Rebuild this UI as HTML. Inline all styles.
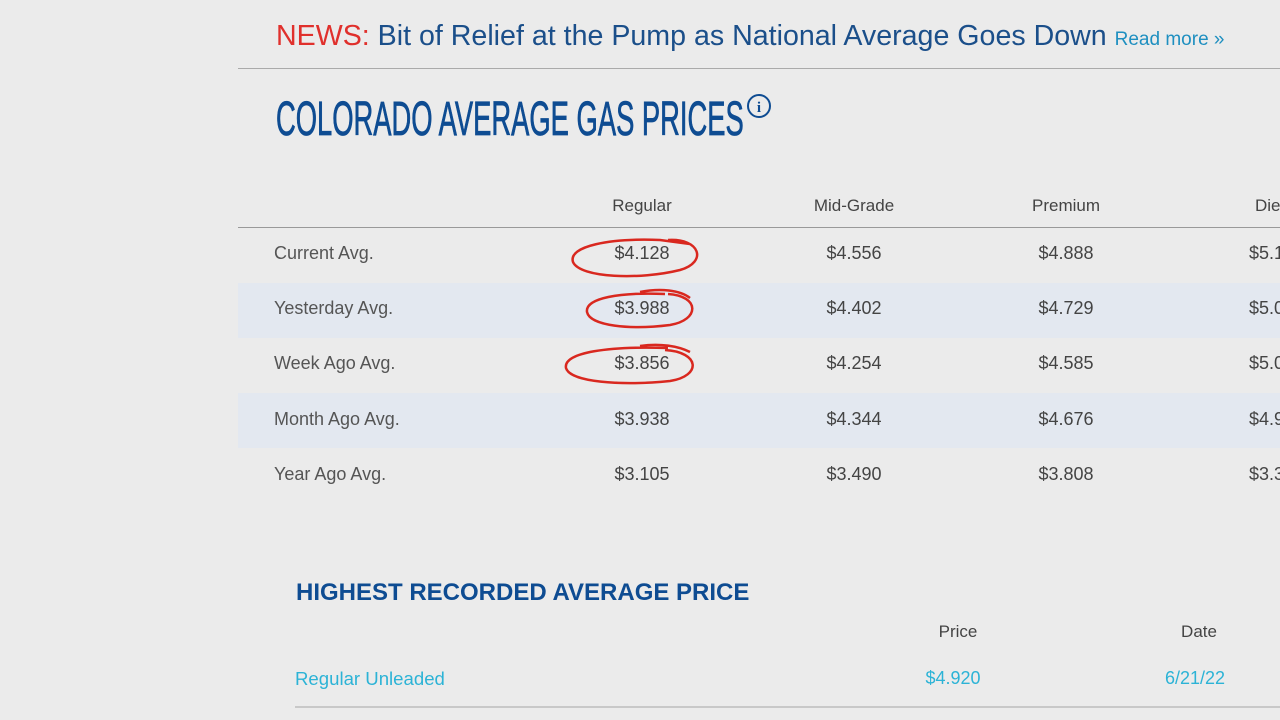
<!DOCTYPE html>
<html><head><meta charset="utf-8"><style>
body{margin:0;width:1280px;height:720px;background:#ebebeb;overflow:hidden;position:relative;font-family:"Liberation Sans",sans-serif}
.a{position:absolute;white-space:nowrap}
.c{transform:translateX(-50%)}
.lab{left:274px;font-size:18px;color:#555}
.v{font-size:18px;color:#444}
.h{font-size:17px;color:#444;top:196px}
</style></head><body>
<div class="a" style="left:276px;top:20px;font-size:28.6px;color:#1b4f8a"><span style="color:#e0302c">NEWS:</span> Bit of Relief at the Pump as National Average Goes Down <span style="font-size:19px;color:#1e8fc0">Read more »</span></div>
<div class="a" style="left:238px;top:68px;width:1042px;height:1px;background:#aaa"></div>
<div class="a" style="left:276px;top:92px;font-size:48px;color:#0e4c92;transform:scaleX(0.57);transform-origin:0 0;-webkit-text-stroke:0.8px #0e4c92">COLORADO AVERAGE GAS PRICES</div>
<svg class="a" style="left:745px;top:93px" width="28" height="28"><circle cx="14" cy="13" r="11" fill="none" stroke="#0e4c92" stroke-width="2"/><text x="14" y="19" font-size="15" font-weight="bold" text-anchor="middle" fill="#0e4c92" font-family="Liberation Serif">i</text></svg>
<div class="a h c" style="left:642px">Regular</div>
<div class="a h c" style="left:854px">Mid-Grade</div>
<div class="a h c" style="left:1066px">Premium</div>
<div class="a h" style="left:1255px">Diesel</div>
<div class="a" style="left:238px;top:227px;width:1042px;height:1px;background:#999"></div>
<div class="a" style="left:238px;top:283px;width:1042px;height:55px;background:#e3e8f0"></div>
<div class="a" style="left:238px;top:393px;width:1042px;height:55px;background:#e3e8f0"></div>

<div class="a lab" style="top:243px">Current Avg.</div>
<div class="a lab" style="top:298px">Yesterday Avg.</div>
<div class="a lab" style="top:353px">Week Ago Avg.</div>
<div class="a lab" style="top:409px">Month Ago Avg.</div>
<div class="a lab" style="top:464px">Year Ago Avg.</div>

<div class="a v c" style="left:642px;top:243px">$4.128</div><div class="a v c" style="left:854px;top:243px">$4.556</div><div class="a v c" style="left:1066px;top:243px">$4.888</div><div class="a v" style="left:1249px;top:243px">$5.1</div>
<div class="a v c" style="left:642px;top:298px">$3.988</div><div class="a v c" style="left:854px;top:298px">$4.402</div><div class="a v c" style="left:1066px;top:298px">$4.729</div><div class="a v" style="left:1249px;top:298px">$5.0</div>
<div class="a v c" style="left:642px;top:353px">$3.856</div><div class="a v c" style="left:854px;top:353px">$4.254</div><div class="a v c" style="left:1066px;top:353px">$4.585</div><div class="a v" style="left:1249px;top:353px">$5.0</div>
<div class="a v c" style="left:642px;top:409px">$3.938</div><div class="a v c" style="left:854px;top:409px">$4.344</div><div class="a v c" style="left:1066px;top:409px">$4.676</div><div class="a v" style="left:1249px;top:409px">$4.9</div>
<div class="a v c" style="left:642px;top:464px">$3.105</div><div class="a v c" style="left:854px;top:464px">$3.490</div><div class="a v c" style="left:1066px;top:464px">$3.808</div><div class="a v" style="left:1249px;top:464px">$3.3</div>

<svg class="a" style="left:0;top:0" width="1280" height="720" fill="none" stroke="#d9281f" stroke-width="2.5">
<path d="M668 240 C700 238 708 262 680 270 C640 280 580 278 573 262 C568 246 610 238 660 240 L690 244"/>
<path d="M668 294 C700 296 700 320 670 325 C630 330 590 326 587 312 C585 298 620 292 665 294 M640 292 C660 288 680 290 690 298"/>
<path d="M665 350 C700 352 702 376 670 381 C620 386 570 382 566 368 C563 352 610 346 668 348 M640 346 C660 343 678 346 690 352"/>
</svg>

<div class="a" style="left:296px;top:579px;font-size:24px;font-weight:bold;color:#0e4c92">HIGHEST RECORDED AVERAGE PRICE</div>
<div class="a c" style="left:958px;top:622px;font-size:17px;color:#444">Price</div>
<div class="a c" style="left:1199px;top:622px;font-size:17px;color:#444">Date</div>
<div class="a" style="left:295px;top:668px;font-size:18.6px;color:#2cb3d6">Regular Unleaded</div>
<div class="a c" style="left:953px;top:668px;font-size:18px;color:#2cb3d6">$4.920</div>
<div class="a c" style="left:1195px;top:668px;font-size:18px;color:#2cb3d6">6/21/22</div>
<div class="a" style="left:295px;top:706px;width:985px;height:2px;background:#c8c8c8"></div>
</body></html>
